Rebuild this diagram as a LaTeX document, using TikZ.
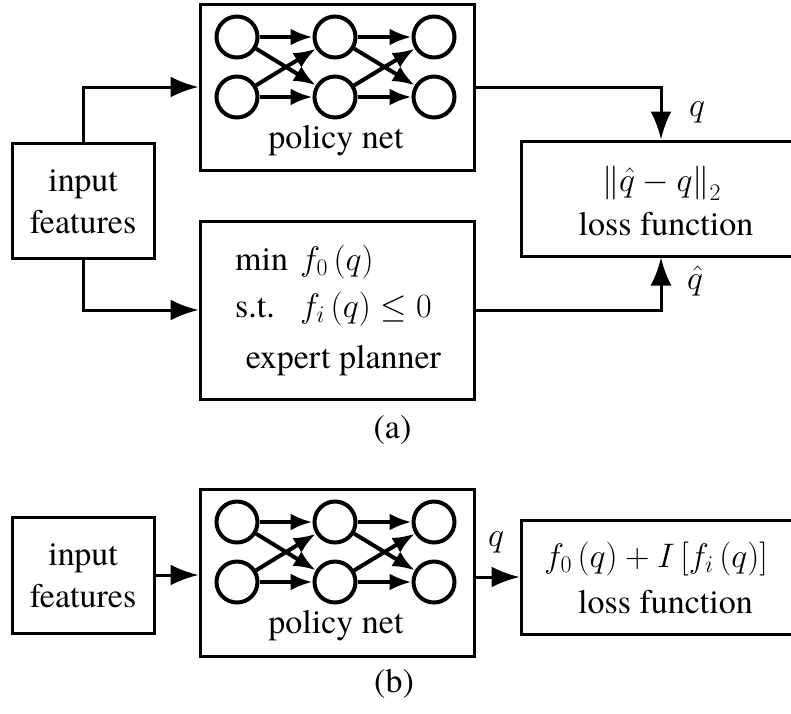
\documentclass[tikz,border=0pt]{standalone}
\usepackage{fix-cm}
\usepackage{fontspec}
\setmainfont{TeX Gyre Termes}
\usetikzlibrary{arrows.meta}
\newcommand\netlayers[2]{%
  \begin{scope}[shift={(0,#2)}]
    \node[neuron] (#1a) at (237,37) {};
    \node[neuron] (#1b) at (237,97) {};
    \node[neuron] (#1c) at (335,37) {};
    \node[neuron] (#1d) at (335,97) {};
    \node[neuron] (#1e) at (434,37) {};
    \node[neuron] (#1f) at (434,97) {};
    \draw[netarrow] (#1a) -- (#1c);
    \draw[netarrow] (#1a) -- (#1d);
    \draw[netarrow] (#1b) -- (#1c);
    \draw[netarrow] (#1b) -- (#1d);
    \draw[netarrow] (#1c) -- (#1e);
    \draw[netarrow] (#1c) -- (#1f);
    \draw[netarrow] (#1d) -- (#1e);
    \draw[netarrow] (#1d) -- (#1f);
  \end{scope}}
\begin{document}
\begin{tikzpicture}[x=1pt,y=-1pt,
  font=\fontsize{34}{42}\selectfont,
  box/.style={draw,line width=3pt,inner sep=0pt},
  neuron/.style={draw,circle,line width=4pt,minimum size=41pt,inner sep=0pt},
  netarrow/.style={line width=4pt,-{Latex[length=22pt,width=17pt]}},
  flow/.style={line width=3pt,-{Latex[length=28pt,width=21pt]}},
  txt/.style={inner sep=0pt,anchor=base},
  txtw/.style={inner sep=0pt,anchor=base west}]
\useasboundingbox (0,0) rectangle (791,713);
% ---------- (a) ----------
\node[box,minimum width=142pt,minimum height=115pt] (inA) at (83,200.5) {};
\node[txt] (inAt1) at (83,191) {input};
\node[txt] (inAt2) at (83,233) {features};
\node[box,minimum width=274pt,minimum height=166pt] (pnA) at (337,87) {};
\netlayers{nA}{0}
\node[txt] (pnAt) at (336,148) {policy net};
\node[box,minimum width=274pt,minimum height=178pt] (epA) at (337,310) {};
\node[txtw] (epA1) at (235,270) {min};
\node[txtw] (epA1m) at (300,270) {$f_0\left(q\right)$};
\node[txtw] (epA2) at (235,317) {s.t.};
\node[txtw] (epA2m) at (300,317) {$f_i\left(q\right)\le 0$};
\node[txt] (epA3) at (343.5,368) {expert planner};
\node[box,minimum width=280pt,minimum height=115pt] (lossA) at (661,198.5) {};
\node[txt] (lossA1) at (661.5,191) {$\left\|\hat{q}-q\right\|_2$};
\node[txt] (lossA2) at (666,235) {loss function};
\draw[flow] (inA.north) |- (pnA.west);
\draw[flow] (inA.south) |- (epA.west);
\draw[flow] (pnA.east) -| (lossA.north);
\draw[flow] (epA.east) -| (lossA.south);
\node[txt] (qA) at (697,116) {$q$};
\node[txt] (qhA) at (695,289) {$\hat{q}$};
\node[txt] (capA) at (392.5,438) {(a)};
% ---------- (b) ----------
\node[box,minimum width=142pt,minimum height=116pt] (inB) at (83,575) {};
\node[txt] (inBt1) at (83,565) {input};
\node[txt] (inBt2) at (83,607) {features};
\node[box,minimum width=274pt,minimum height=167pt] (pnB) at (337,572.5) {};
\netlayers{nB}{485}
\node[txt] (pnBt) at (336,633) {policy net};
\node[box,minimum width=280pt,minimum height=114pt] (lossB) at (661,577) {};
\node[txt] (lossB1) at (656,567) {$f_0\left(q\right)+I\left[f_i\left(q\right)\right]$};
\node[txt] (lossB2) at (665.5,613) {loss function};
\draw[flow] (inB.east) -- (inB.east -| pnB.west);
\draw[flow] (pnB.east |- lossB.west) -- (lossB.west);
\node[txt] (qB) at (496,546) {$q$};
\node[txt] (capB) at (394,692) {(b)};
\end{tikzpicture}
\end{document}
